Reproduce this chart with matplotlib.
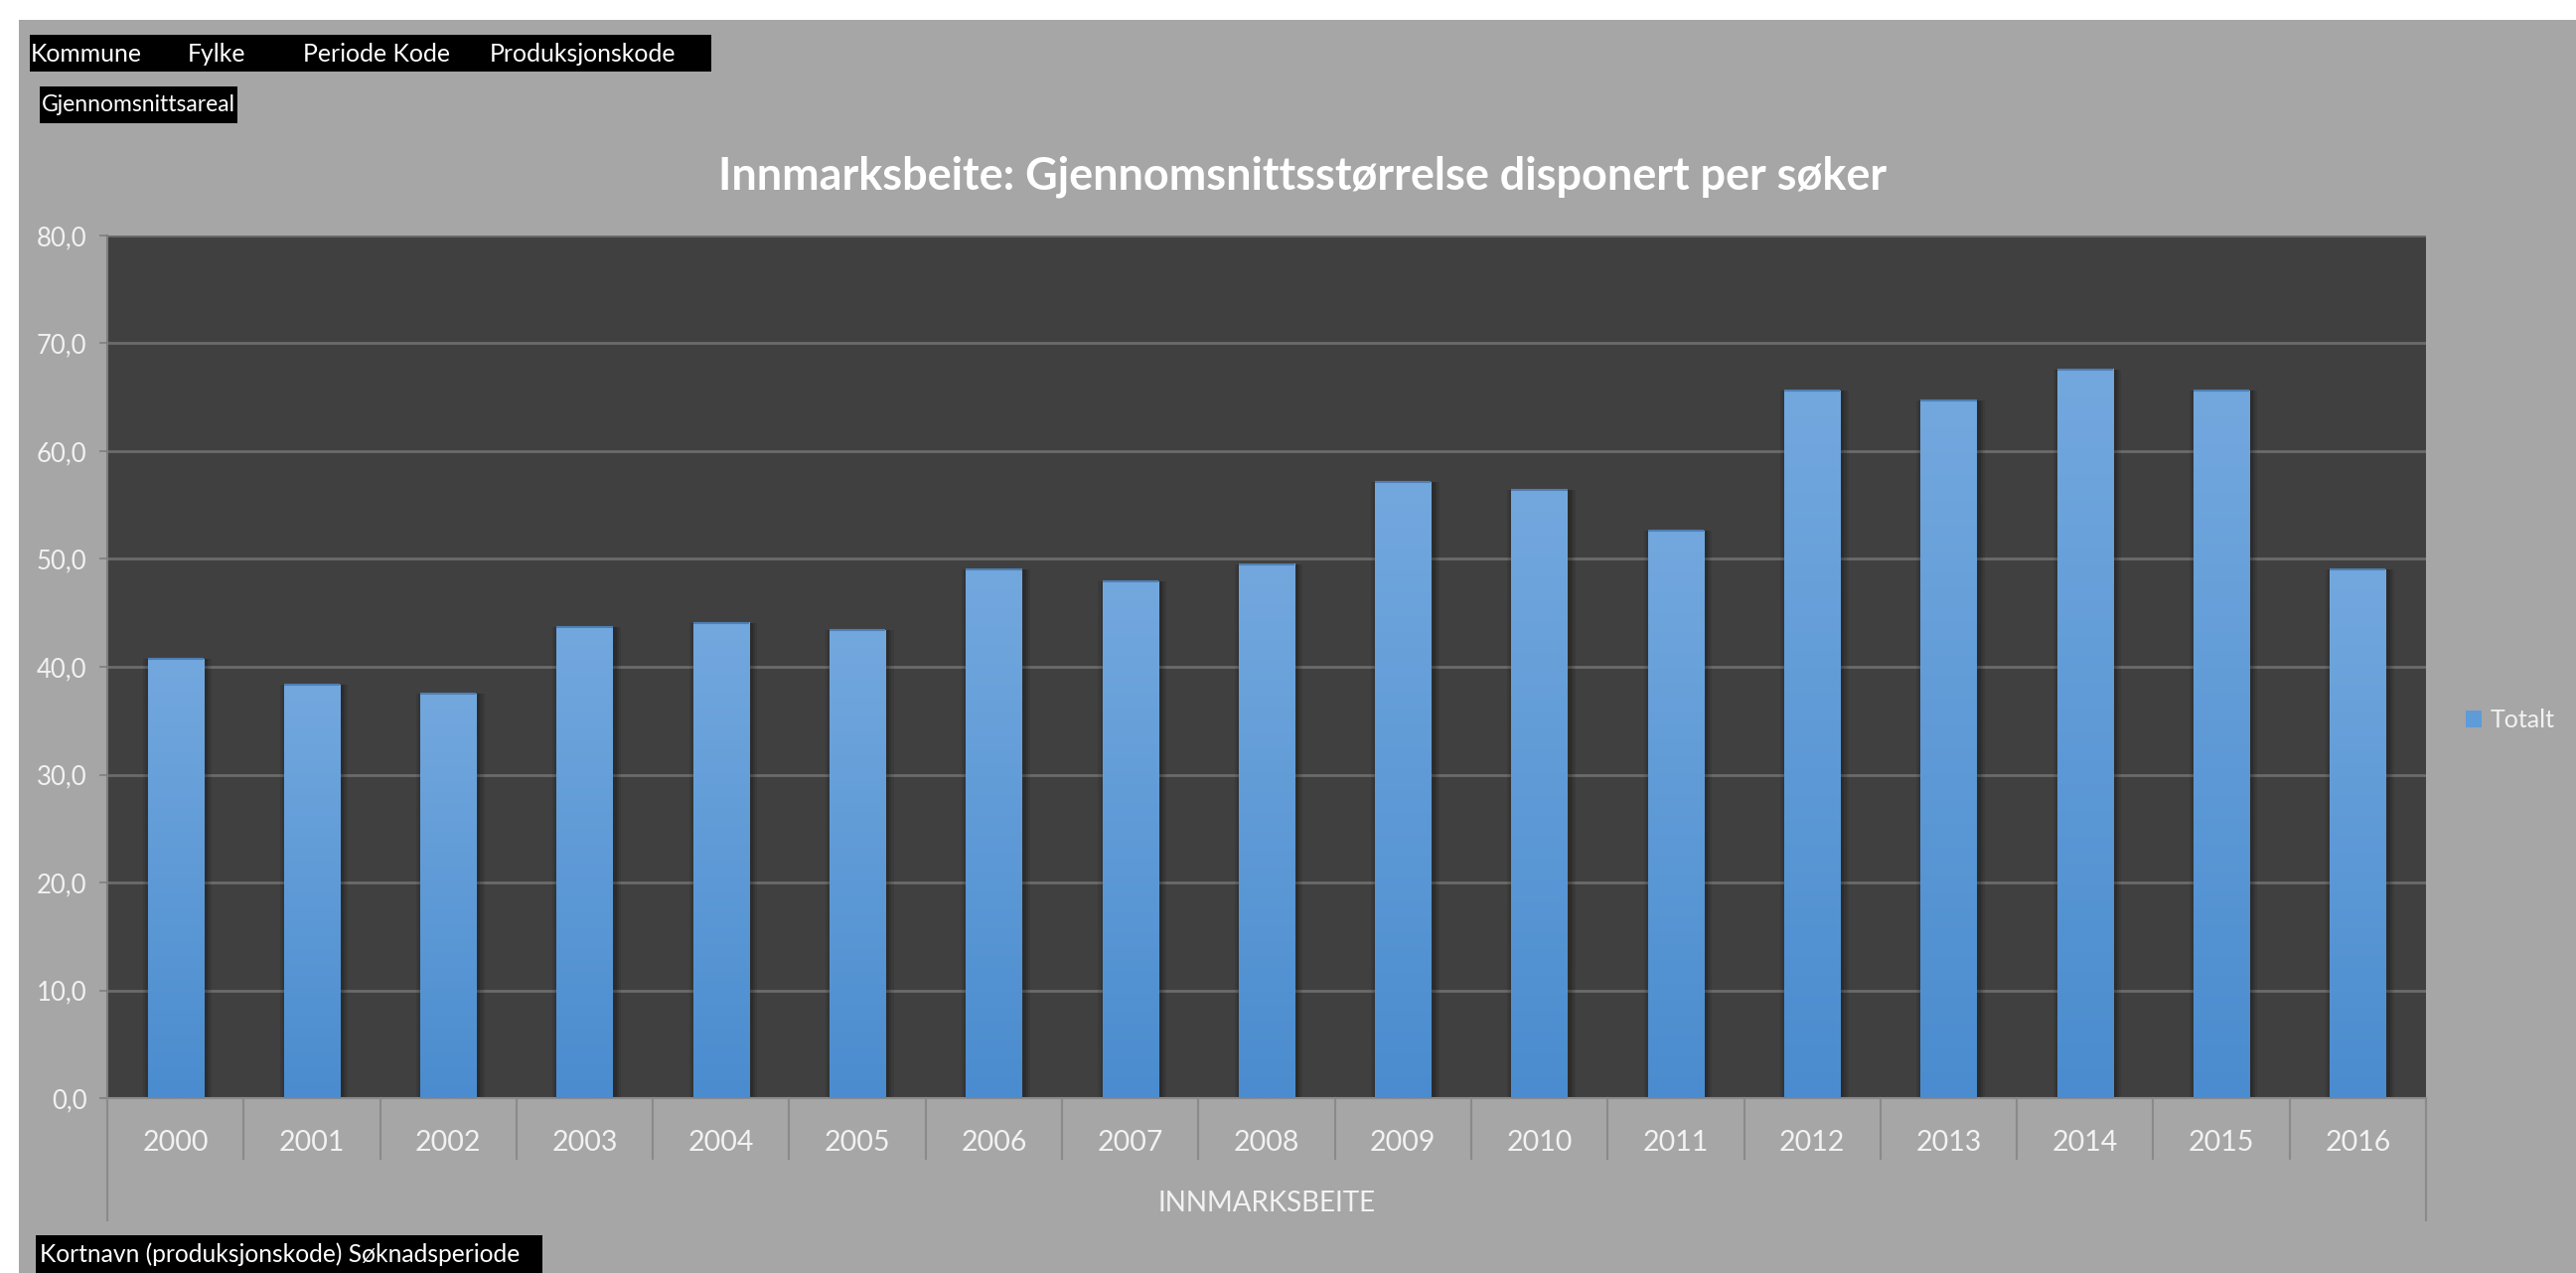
import numpy as np
import matplotlib
matplotlib.use('Agg')
import matplotlib.pyplot as plt
import matplotlib.transforms as mtransforms
from matplotlib.patches import Rectangle, Patch
from matplotlib.colors import LinearSegmentedColormap
from matplotlib.ticker import FuncFormatter

#%% data
years = ['2000', '2001', '2002', '2003', '2004', '2005', '2006', '2007', '2008',
         '2009', '2010', '2011', '2012', '2013', '2014', '2015', '2016']
totalt = [40.7, 38.3, 37.5, 43.7, 44.1, 43.4, 49.0, 47.9, 49.5,
          57.1, 56.4, 52.6, 65.6, 64.7, 67.6, 65.6, 49.0]
series_name = 'Totalt'
title = 'Innmarksbeite: Gjennomsnittsstørrelse disponert per søker'
category_title = 'INNMARKSBEITE'
filter_fields = ['Kommune', 'Fylke', 'Periode Kode', 'Produksjonskode']
value_field = 'Gjennomsnittsareal'
axis_fields = 'Kortnavn (produksjonskode) Søknadsperiode'

#%% figure setup (pixel helpers, y measured from the top)
W, H = 2593, 1281
plt.rcParams['font.family'] = ['Lato', 'DejaVu Sans']

fig = plt.figure(figsize=(W / 100, H / 100), dpi=100, facecolor='white')

def fx(px):
    return px / W

def fy(py):
    return 1 - py / H

fig.add_artist(Rectangle((fx(19), 0), 1, fy(20), transform=fig.transFigure,
                         facecolor='#a6a6a6', edgecolor='none', zorder=0))

ax = fig.add_axes([fx(108), fy(1105), fx(2442 - 108), (1105 - 237) / H])
ax.set_facecolor('#404040')

#%% bars
x = np.arange(len(years))
bw = 0.41
for k, a in [(0.09, 0.08), (0.06, 0.10), (0.03, 0.14)]:
    ax.bar(x + 0.015, totalt, width=bw + k, color='black', alpha=a, linewidth=0, zorder=1)
bars = ax.bar(x, totalt, width=bw, color='#5f9bd8', linewidth=0, zorder=2)

cmap = LinearSegmentedColormap.from_list('bar_grad', ['#4a8ccf', '#73a8de'])
grad = np.linspace(0, 1, 256).reshape(-1, 1)
for b in bars:
    x0, w, h = b.get_x(), b.get_width(), b.get_height()
    ax.imshow(grad, extent=(x0, x0 + w, 0, h), origin='lower', cmap=cmap,
              aspect='auto', zorder=3, interpolation='bilinear')
ax.hlines(totalt, x - bw / 2, x + bw / 2, color='#4f7fb5', lw=1.5, zorder=4)

ax.set_xlim(-0.5, len(years) - 0.5)
ax.set_ylim(0, 80)
ax.set_yticks(np.arange(0, 81, 10))
ax.yaxis.set_major_formatter(FuncFormatter(lambda v, p: f'{v:.1f}'.replace('.', ',')))
ax.set_xticks(x)
ax.set_xticklabels(years)

ax.set_axisbelow(True)
ax.grid(axis='y', color='#6b6b6b', lw=2)
ax.grid(axis='x', visible=False)
for s in ['top', 'right']:
    ax.spines[s].set_visible(False)
ax.spines['left'].set_color('#7f7f7f')
ax.spines['left'].set_linewidth(1.5)
ax.spines['bottom'].set_color('#8a8a8a')
ax.spines['bottom'].set_linewidth(1.5)

ax.tick_params(axis='y', length=5.8, width=1.2, color='#7f7f7f', pad=9,
               labelsize=18.5, labelcolor='#f2f2f2')
ax.tick_params(axis='x', length=0, pad=23, labelsize=20.5, labelcolor='#f2f2f2')

# category separators below the axis
trans = mtransforms.blended_transform_factory(ax.transData, ax.transAxes)
for i in range(len(years) + 1):
    bottom = -0.1417 if i in (0, len(years)) else -0.0703
    ax.plot([i - 0.5, i - 0.5], [0, bottom], transform=trans, color='#8a8a8a',
            lw=1.5, clip_on=False, zorder=5)

#%% texts
fig.text(fx(1311), fy(178), title, fontsize=32.4, fontweight='bold', color='white',
         ha='center', va='center')
fig.text(fx(1275), fy(1211), category_title, fontsize=20, color='#f2f2f2',
         ha='center', va='center')

# pivot field buttons
fig.add_artist(Rectangle((fx(30), fy(72)), fx(716 - 30), (72 - 35) / H,
                         transform=fig.transFigure, facecolor='black', edgecolor='none'))
for label, px in zip(filter_fields, [31, 189, 305, 493]):
    fig.text(fx(px), fy(55), label, fontsize=17.8, color='white', ha='left', va='center')

fig.add_artist(Rectangle((fx(40), fy(124)), fx(239 - 40), (124 - 87) / H,
                         transform=fig.transFigure, facecolor='black', edgecolor='none'))
fig.text(fx(42), fy(106), value_field, fontsize=16.5, color='white', ha='left', va='center')

fig.add_artist(Rectangle((fx(36), fy(1281)), fx(546 - 36), (1281 - 1243) / H,
                         transform=fig.transFigure, facecolor='black', edgecolor='none'))
fig.text(fx(40), fy(1262), axis_fields, fontsize=17.7, color='white', ha='left', va='center')

#%% legend
handle = Patch(facecolor='#5f9bd8', edgecolor='none')
fig.legend([handle], [series_name], loc='center left',
           bbox_to_anchor=(fx(2482), fy(725)), frameon=False, fontsize=18,
           labelcolor='#f2f2f2', handlelength=0.65, handleheight=0.65,
           handletextpad=0.35, borderpad=0, borderaxespad=0)

fig.savefig('out.png', dpi=100, facecolor=fig.get_facecolor())
